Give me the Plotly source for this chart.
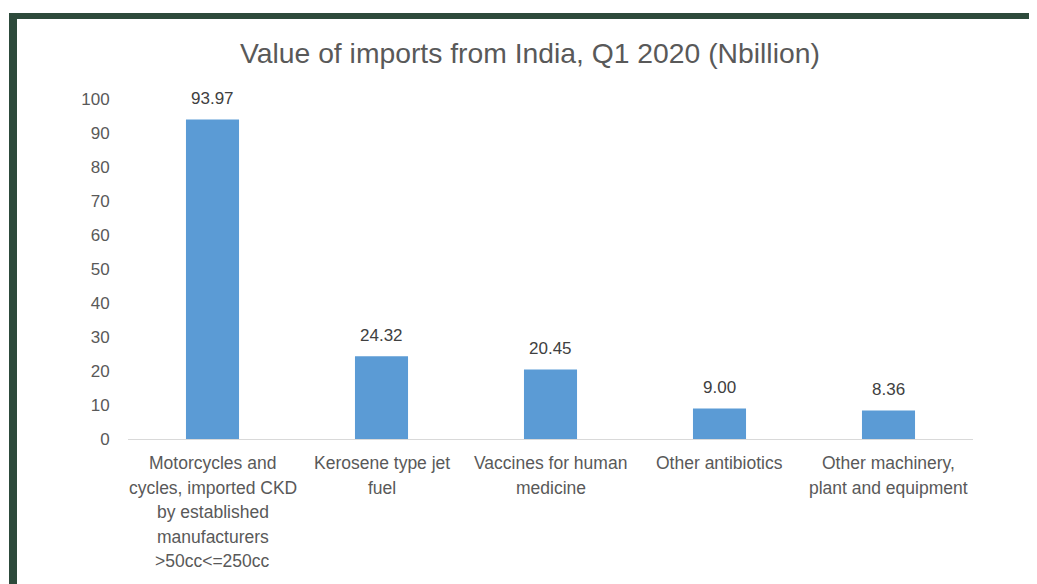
import plotly.graph_objects as go

title = "Value of imports from India, Q1 2020 (Nbillion)"
categories = [
    "Motorcycles and<br>cycles, imported CKD<br>by established<br>manufacturers<br>>50cc<=250cc",
    "Kerosene type jet<br>fuel",
    "Vaccines for human<br>medicine",
    "Other antibiotics",
    "Other machinery,<br>plant and equipment",
]
values = [93.97, 24.32, 20.45, 9.00, 8.36]
y_ticks = [0, 10, 20, 30, 40, 50, 60, 70, 80, 90, 100]

OFF = 8  # page body margin offset
W, H = 1037 + OFF, 584
L, R, T, B = 128 - OFF, 72 + OFF, 99 - OFF, 584 - (439 - OFF)
pw, ph = W - L - R, H - T - B

def px(x):
    return (x - OFF - L) / pw

def py(y):
    return (H - B - (y - OFF)) / ph

FONT = "Liberation Sans"
TXT = "#595959"
BORDER = "#2d4a3b"

fig = go.Figure()
fig.add_trace(go.Bar(
    x=list(range(len(categories))),
    y=values,
    marker=dict(color="#5b9bd5", line=dict(width=0)),
    hoverinfo="skip",
))

annotations = []
for i, v in enumerate(values):
    annotations.append(dict(
        x=i, y=v, xref="x", yref="y", text=f"{v:.2f}", showarrow=False,
        yanchor="middle", yshift=21, font=dict(family=FONT, size=17, color="#404040"),
    ))
for i, lab in enumerate(categories):
    for j, line in enumerate(lab.split("<br>")):
        annotations.append(dict(
            x=i, y=0, xref="x", yref="y", text=line.replace("<", "&lt;").replace(">", "&gt;"),
            showarrow=False, yanchor="middle", yshift=-(24 + 24.5 * j),
            font=dict(family=FONT, size=17.5, color=TXT),
        ))
annotations.append(dict(
    x=px(529.5), y=py(53), xref="paper", yref="paper", text=title, showarrow=False,
    xanchor="center", yanchor="middle", font=dict(family=FONT, size=28.3, color=TXT),
))

shapes = [
    dict(type="rect", xref="paper", yref="paper", x0=px(9), x1=px(17), y0=py(600), y1=py(13),
         fillcolor=BORDER, line=dict(width=0), layer="above"),
    dict(type="rect", xref="paper", yref="paper", x0=px(9), x1=px(1060), y0=py(19), y1=py(13),
         fillcolor=BORDER, line=dict(width=0), layer="above"),
]

fig.update_layout(
    width=W, height=H,
    margin=dict(l=L, r=R, t=T, b=B, autoexpand=False),
    paper_bgcolor="white", plot_bgcolor="white",
    showlegend=False,
    bargap=0.686,
    annotations=annotations,
    shapes=shapes,
    xaxis=dict(
        range=[-0.5, len(categories) - 0.5], showticklabels=False, showgrid=False,
        zeroline=False, showline=True, linecolor="#d9d9d9", linewidth=1, ticks="",
    ),
    yaxis=dict(
        range=[0, 100], tickvals=y_ticks, showgrid=False, zeroline=False, showline=False,
        ticks="outside", ticklen=14, tickcolor="rgba(0,0,0,0)",
        tickfont=dict(family=FONT, size=17, color=TXT),
    ),
)

fig.write_html("out.html")
